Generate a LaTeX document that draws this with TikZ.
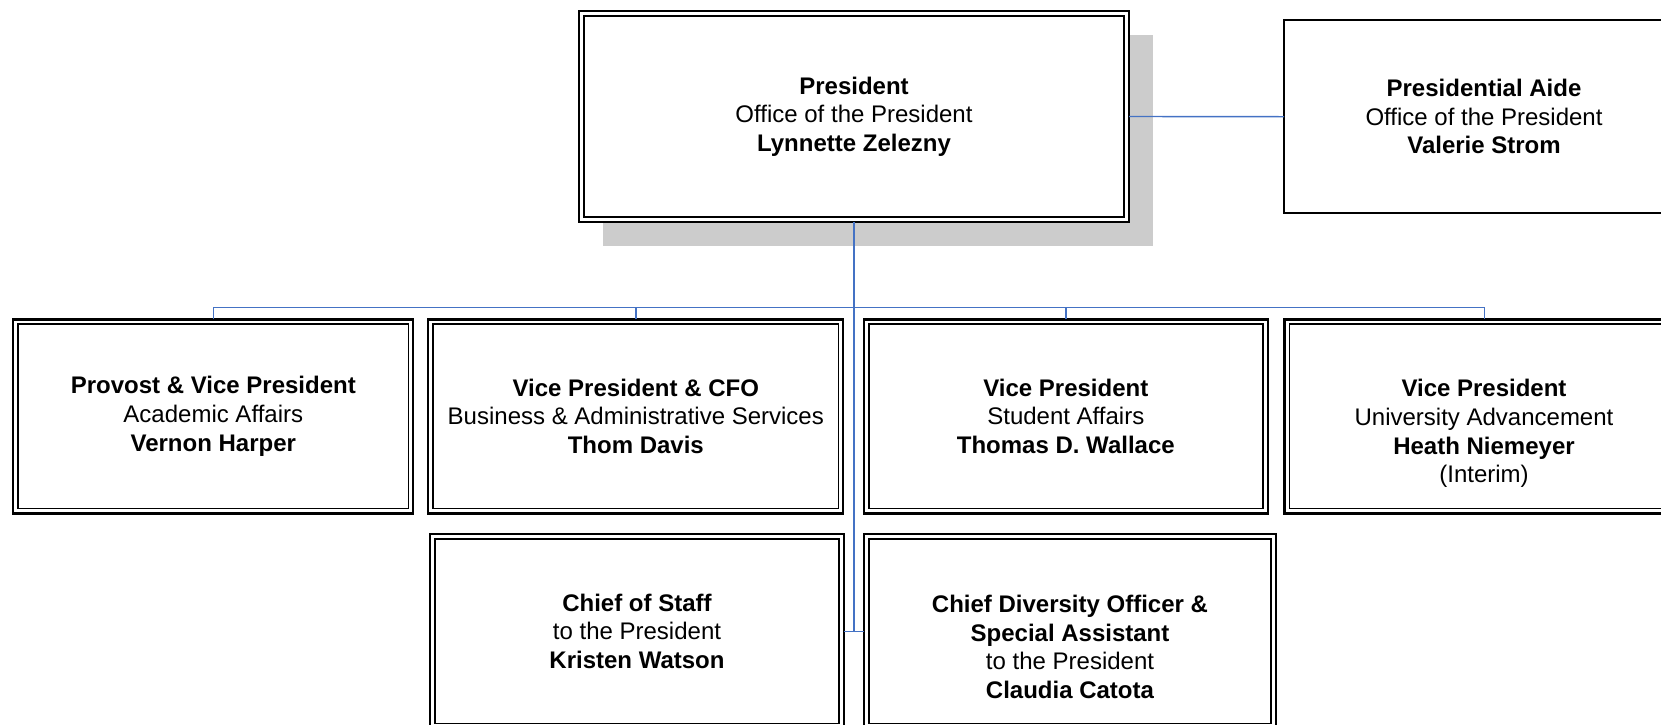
\documentclass[tikz,border=0pt]{standalone}
\usepackage{fontspec}
\setmainfont{Liberation Sans}
\usetikzlibrary{backgrounds}
\definecolor{connblue}{HTML}{4472C4}
\definecolor{shadowgray}{HTML}{CCCCCC}
\tikzset{
  boxfont/.style={font=\fontsize{24}{28.7}\selectfont},
  boxtext/.style={boxfont, align=center, inner sep=0pt},
  orgbox/.style={boxfont, draw=black, line width=2.2pt, fill=white, outer sep=0pt, inner sep=0pt, align=center},
  plainbox/.style={boxfont, draw=black, line width=2pt, fill=white, outer sep=0pt, inner sep=0pt, align=center},
  innerline/.style={draw=black, line width=1.5pt},
  conn/.style={draw=connblue, line width=1.4pt},
  trunk/.style={draw=connblue, line width=2pt},
}
\begin{document}
\begin{tikzpicture}[x=1pt,y=-1pt]
\useasboundingbox (0,0) rectangle (1661,724);
\clip (0,0) rectangle (1661,724);

% top level
\node[orgbox, minimum width=550pt, minimum height=211pt] (pres) at (854,116.5)
  {\textbf{President}\\Office of the President\\\textbf{Lynnette Zelezny}};
\node[plainbox, minimum width=400pt, minimum height=193.3pt] (aide) at (1484,116.7)
  {\textbf{Presidential Aide}\\Office of the President\\\textbf{Valerie Strom}};

% second level
\node[orgbox, minimum width=400pt, minimum height=194pt] (prov) at (213.3,416.4)
  {\textbf{Provost \& Vice President}\\Academic Affairs\\\textbf{Vernon Harper}};
\node[orgbox, minimum width=415pt, minimum height=194pt] (cfo) at (635.8,416.4)
  {\textbf{Vice President \& CFO}\\Business \& Administrative Services\\\textbf{Thom Davis}};
\node[orgbox, minimum width=403.7pt, minimum height=194pt] (stu) at (1065.8,416.4)
  {\textbf{Vice President}\\Student Affairs\\\textbf{Thomas D. Wallace}};
\node[orgbox, minimum width=400pt, minimum height=194pt] (adv) at (1484.5,416.4) {};
\node[boxtext] (advtext) at (1484,433.7)
  {\textbf{Vice President}\\University Advancement\\\textbf{Heath Niemeyer}\\(Interim)};

% third level
\node[orgbox, minimum width=414pt, minimum height=194pt] (cos) at (637,631.3)
  {\textbf{Chief of Staff}\\to the President\\\textbf{Kristen Watson}};
\node[orgbox, minimum width=412pt, minimum height=194pt] (div) at (1070,631.3) {};
\node[boxtext] (divtext) at (1070,647)
  {\textbf{Chief Diversity Officer \&}\\\textbf{Special Assistant}\\to the President\\\textbf{Claudia Catota}};

% inner lines of the double borders
\foreach \n in {pres,prov,cfo,stu,adv,cos,div}
  \draw[innerline] ([shift={(4.8pt,-4.8pt)}]\n.north west) rectangle ([shift={(-4.8pt,4.8pt)}]\n.south east);

% shadow of the president box
\begin{pgfonlayer}{background}
  \fill[shadowgray] ([shift={(24pt,-23.5pt)}]pres.north west) rectangle ([shift={(24pt,-24pt)}]pres.south east);
\end{pgfonlayer}

% connectors
\coordinate (bus) at (854,307.7);
\draw[conn] (pres.east) -- (aide.west);
\draw[conn] (prov.north) |- (bus) -| (adv.north);
\draw[conn] (cfo.north) -- (cfo.north |- bus);
\draw[conn] (stu.north) -- (stu.north |- bus);
\draw[trunk] (pres.south) -- (pres.south |- cos.east);
\draw[conn] (cos.east) -- (div.west);
\end{tikzpicture}
\end{document}
